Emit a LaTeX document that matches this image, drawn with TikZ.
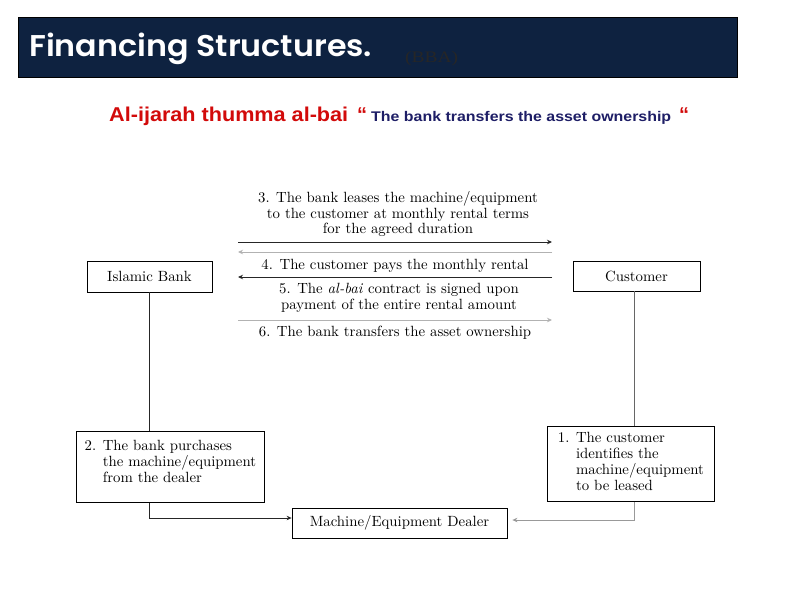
\documentclass[tikz,border=0pt]{standalone}
\usepackage{fontspec}
\usetikzlibrary{arrows.meta}
\newfontfamily\titlefont{Poppins}[BoldFont={* SemiBold}]
\newfontfamily\arialfont{Liberation Sans}
\newfontfamily\timesfont{Liberation Serif}
\newfontfamily\diafont{lmroman10-regular}[Extension=.otf, ItalicFont=lmroman10-italic]
\definecolor{hdrblue}{HTML}{0E2240}
\definecolor{subred}{HTML}{D20A0A}
\definecolor{subnavy}{HTML}{1E1E66}

\begin{document}
\begin{tikzpicture}[x=1pt, y=-1pt,
    txt/.style={font=\diafont\fontsize{14.8}{15.8}\selectfont, inner sep=0pt},
    box/.style={draw, line width=0.8pt, txt, inner sep=0pt},
    tip/.style={-{Stealth[length=5pt, width=4.5pt]}},
    dark/.style={draw=black!85, line width=0.9pt},
    light/.style={draw=black!30, line width=0.9pt}
    ]
    \useasboundingbox[fill=white] (0,0) rectangle (794,595);
    \draw[fill=hdrblue, draw=black] (18,17) rectangle (737,77);
    \node[anchor=base west, inner sep=0pt, text=white] (title) at (29,56)
      {\resizebox{343pt}{\height}{\titlefont\bfseries\fontsize{30}{31}\selectfont Financing Structures.}};
    \node[anchor=base west, inner sep=0pt, text=black!85] (bba) at (405,62)
      {\resizebox{53pt}{\height}{\timesfont\fontsize{16}{17}\selectfont (BBA)}};
    \node[anchor=base west, inner sep=0pt] (sub) at (109,121)
      {\arialfont\bfseries\color{subred}\resizebox{239pt}{\height}{\fontsize{20}{22}\selectfont Al-ijarah thumma al-bai}\hspace{9pt}{\fontsize{20}{22}\selectfont“}\hspace{4pt}\resizebox{300pt}{\height}{\fontsize{14}{16}\selectfont\color{subnavy}The bank transfers the asset ownership}\hspace{8pt}{\fontsize{20}{22}\selectfont“}};

    \node[box, minimum width=125pt, minimum height=31pt] (bank) at (149.5,276.5) {Islamic Bank};
    \node[box, minimum width=127pt, minimum height=30pt] (cust) at (636.5,276) {Customer};
    \node[box, minimum width=215pt, minimum height=30pt] (dealer) at (399.5,523) {Machine/Equipment Dealer};
    \node[box, anchor=north west, minimum width=167pt, inner xsep=9pt, inner ysep=5.5pt,
      text height=11pt, text depth=53pt] (buy) at (547,426)
      {\begin{tabular}[t]{@{}l@{ }l@{}}1.&The customer\\&identifies the\\&machine/equipment\\&to be leased\end{tabular}};
    \node[box, anchor=north west, minimum width=188pt, inner xsep=6pt, inner ysep=8.5pt,
      text height=11pt, text depth=43pt] (purch) at (76,431)
      {\begin{tabular}[t]{@{}l@{ }l@{}}2.&The bank purchases\\&the machine/equipment\\&from the dealer\end{tabular}};

    \node[txt, align=center] (lease) at (398,214)
      {3. The bank leases the machine/equipment\\to the customer at monthly rental terms\\for the agreed duration};
    \node[txt] (pay) at (395,266) {4. The customer pays the monthly rental};
    \node[txt, align=center] (sign) at (399,298)
      {5. The \textit{al-bai} contract is signed upon\\payment of the entire rental amount};
    \node[txt] (own) at (395,333) {6. The bank transfers the asset ownership};

    \coordinate (l3) at (238,242); \coordinate (r3) at (552,242);
    \coordinate (l4) at (238,252); \coordinate (r4) at (552,252);
    \coordinate (l5) at (238,277); \coordinate (r5) at (552,277);
    \coordinate (l6) at (238,320); \coordinate (r6) at (552,320);
    \draw[dark, tip] (l3) -- (r3);
    \draw[light, tip] (r4) -- (l4);
    \draw[dark, tip] (r5) -- (l5);
    \draw[light, tip] (l6) -- (r6);

    \draw[dark] (bank.south) -- (bank.south |- purch.north);
    \draw[dark, tip] (bank.south |- purch.south) |- ([yshift=5pt]dealer.west);
    \draw[draw=black!60, line width=0.9pt] ([xshift=-2pt]cust.south) -- ([xshift=-2pt]cust.south |- buy.north);
    \draw[draw=black!40, line width=0.9pt, tip] ([xshift=-2pt]cust.south |- buy.south) |- ([xshift=5pt, yshift=3pt]dealer.east);
\end{tikzpicture}
\end{document}
